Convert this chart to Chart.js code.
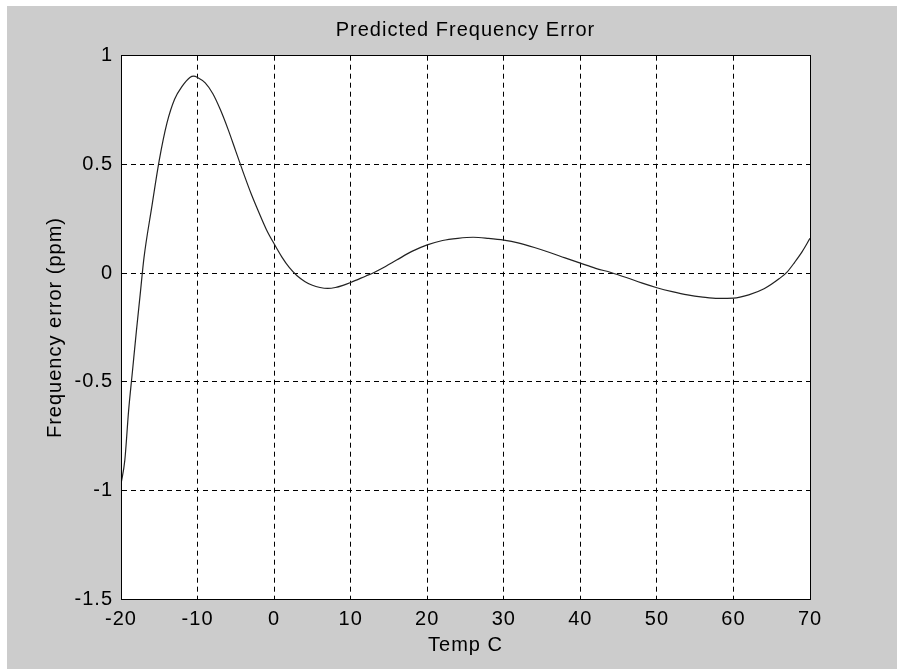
<!DOCTYPE html>
<html><head><meta charset="utf-8">
<script src="https://cdn.jsdelivr.net/npm/chart.js@4/dist/chart.umd.min.js"></script>
<style>html,body{margin:0;padding:0;background:#fff;overflow:hidden}canvas{display:block}</style>
</head><body>
<canvas id="c" width="901" height="671"></canvas>
<script>
const temps  = [-20, -19.5, -19, -18.5, -18, -17.5, -17, -16, -15, -14, -13, -12, -11, -10.5, -10, -9, -8, -7, -6, -5, -4, -3, -2, -1, 0, 1, 2, 3, 4, 5, 6, 7, 8, 9, 10, 12, 13, 14, 16, 18, 20, 22, 24, 26, 28, 30, 32, 34, 36, 38, 40, 42, 44, 46, 48, 50, 52, 54, 56, 58, 60, 62, 64, 66, 67, 68, 69, 70];
const errors = [-0.97, -0.86, -0.63, -0.45, -0.27, -0.1, 0.07, 0.3, 0.52, 0.69, 0.8, 0.86, 0.9, 0.906, 0.9, 0.875, 0.825, 0.75, 0.66, 0.56, 0.46, 0.365, 0.28, 0.2, 0.135, 0.075, 0.025, -0.012, -0.038, -0.056, -0.066, -0.07, -0.066, -0.056, -0.043, -0.013, 0.002, 0.02, 0.06, 0.1, 0.13, 0.15, 0.16, 0.165, 0.16, 0.152, 0.138, 0.118, 0.095, 0.07, 0.046, 0.022, 0.003, -0.02, -0.045, -0.067, -0.085, -0.1, -0.11, -0.116, -0.115, -0.1, -0.072, -0.025, 0.005, 0.05, 0.1, 0.16];
const xTicks = [-20, -10, 0, 10, 20, 30, 40, 50, 60, 70];
const xTickLabels = ['-20', '-10', '0', '10', '20', '30', '40', '50', '60', '70'];
const yTicks = [-1.5, -1, -0.5, 0, 0.5, 1];
const yTickLabels = ['-1.5', '-1', '-0.5', '0', '0.5', '1'];
const titleText = 'Predicted Frequency Error';
const xTitle = 'Temp C';
const yTitle = 'Frequency error (ppm)';

const FONT = {family: '"Liberation Sans", Arial, Helvetica, sans-serif', size: 20, weight: 'normal'};

const bgPlugin = {
  id: 'bg',
  beforeDraw(chart) {
    const ctx = chart.ctx;
    ctx.letterSpacing = '1px';
    ctx.save();
    ctx.fillStyle = '#ffffff';
    ctx.fillRect(0, 0, chart.width, chart.height);
    ctx.fillStyle = '#cccccc';
    ctx.fillRect(7, 6, 890, 663);
    const a = chart.chartArea;
    ctx.fillStyle = '#ffffff';
    ctx.fillRect(a.left, a.top, a.right - a.left, a.bottom - a.top);
    ctx.restore();
  },
  afterDraw(chart) {
    const ctx = chart.ctx;
    const a = chart.chartArea;
    ctx.save();
    ctx.setLineDash([]);
    ctx.strokeStyle = '#000';
    ctx.lineWidth = 1;
    const l = Math.round(a.left - 0.5) + 0.5, r = Math.round(a.right - 0.5) + 0.5;
    const t = Math.round(a.top - 0.5) + 0.5, b = Math.round(a.bottom - 0.5) + 0.5;
    ctx.strokeRect(l, t, r - l, b - t);
    ctx.restore();
  }
};

const edgeColor = (lo, hi) => c => (c.tick && (c.tick.value === lo || c.tick.value === hi)) ? 'rgba(0,0,0,0)' : '#000';

new Chart(document.getElementById('c'), {
  type: 'line',
  data: {
    datasets: [{
      data: temps.map((t, i) => ({x: t, y: errors[i]})),
      borderColor: '#222',
      borderWidth: 1.2,
      pointRadius: 0,
      fill: false,
      cubicInterpolationMode: 'monotone'
    }]
  },
  options: {
    responsive: false,
    animation: false,
    devicePixelRatio: 1,
    layout: {padding: {left: 0, right: 91, top: 0, bottom: 0}},
    plugins: {
      legend: {display: false},
      tooltip: {enabled: false},
      title: {
        display: true, text: titleText, fullSize: false, color: '#000',
        font: FONT, padding: {top: 18, bottom: 13.7}
      }
    },
    scales: {
      x: {
        type: 'linear', min: -20, max: 70,
        afterBuildTicks: s => { s.ticks = xTicks.map(v => ({value: v})); },
        afterFit: s => { s.height = 71.7; },
        ticks: {
          autoSkip: false, maxRotation: 0, color: '#000', font: FONT, padding: 8,
          callback: v => xTickLabels[xTicks.indexOf(v)]
        },
        grid: {color: edgeColor(-20, 70), lineWidth: 1, drawTicks: false},
        border: {display: true, color: '#000', width: 1, dash: [5, 4]},
        title: {display: true, text: xTitle, color: '#000', font: FONT, padding: {top: 0, bottom: 14}}
      },
      y: {
        type: 'linear', min: -1.5, max: 1,
        afterBuildTicks: s => { s.ticks = yTicks.map(v => ({value: v})); },
        afterFit: s => { s.width = 121; },
        ticks: {
          autoSkip: false, color: '#000', font: FONT, padding: 8,
          callback: v => yTickLabels[yTicks.indexOf(v)]
        },
        grid: {color: edgeColor(-1.5, 1), lineWidth: 1, drawTicks: false},
        border: {display: true, color: '#000', width: 1, dash: [5, 4]},
        title: {display: true, text: yTitle, color: '#000', font: FONT, padding: {top: 43, bottom: 0}}
      }
    }
  },
  plugins: [bgPlugin]
});
</script>
</body></html>
